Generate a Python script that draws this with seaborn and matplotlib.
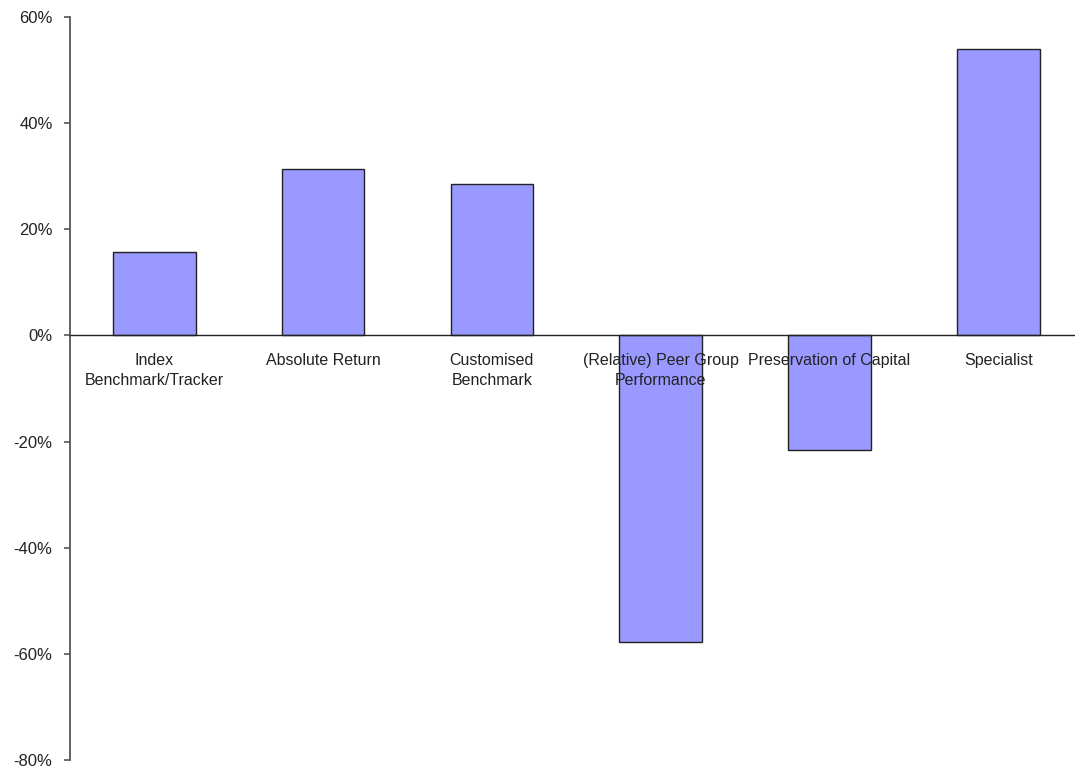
import matplotlib
matplotlib.use("Agg")
import matplotlib.pyplot as plt
import matplotlib.ticker as mticker
import numpy as np
import pandas as pd
import seaborn as sns

categories = [
    "Index\nBenchmark/Tracker",
    "Absolute Return",
    "Customised\nBenchmark",
    "(Relative) Peer Group\nPerformance",
    "Preservation of Capital",
    "Specialist",
]
values_pct = [15.7, 31.4, 28.5, -57.8, -21.5, 53.9]
y_ticks = [-80, -60, -40, -20, 0, 20, 40, 60]

sns.set_style("white")
plt.rcParams["font.family"] = ["Liberation Sans", "DejaVu Sans"]

df = pd.DataFrame({"category": categories, "value": values_pct})

fig = plt.figure(figsize=(10.75, 7.71), dpi=100)
# the plot area runs slightly past the right edge of the canvas
ax = fig.add_axes([0.0651, 0.0143, 0.942, 0.9637])

sns.barplot(
    data=df, x="category", y="value", ax=ax,
    color="#9999FF", saturation=1, width=0.49,
    edgecolor="#222222", linewidth=1.0,
)
# axis labels and the zero line are drawn over the bars
ax.set_axisbelow(False)

ax.set_xlim(-0.5, len(categories) - 0.5)
ax.set_ylim(-80, 60)
ax.set_yticks(y_ticks)
ax.yaxis.set_major_formatter(mticker.FuncFormatter(lambda v, _: f"{v:.0f}%"))
ax.set_xlabel("")
ax.set_ylabel("")

for side in ("top", "right"):
    ax.spines[side].set_visible(False)
ax.spines["left"].set_color("#555555")
ax.spines["left"].set_linewidth(1.3)
ax.spines["bottom"].set_position(("data", 0))
ax.spines["bottom"].set_color("#222222")
ax.spines["bottom"].set_linewidth(1.0)

# category labels sit under the zero line, separators as minor ticks
ax.tick_params(axis="x", which="major", length=0, pad=12.5,
               labelsize=11.5, labelcolor="#222222")
ax.set_xticks(np.arange(0.5, len(categories) - 0.5), minor=True)
ax.tick_params(axis="x", which="minor", length=4, width=1.0,
               color="#222222", direction="out")
for lbl in ax.get_xticklabels():
    lbl.set_linespacing(1.45)

ax.tick_params(axis="y", which="major", left=True, length=4, width=1.2,
               color="#555555", pad=8.5, labelsize=12,
               labelcolor="#222222")

fig.savefig("out.png", dpi=100)
